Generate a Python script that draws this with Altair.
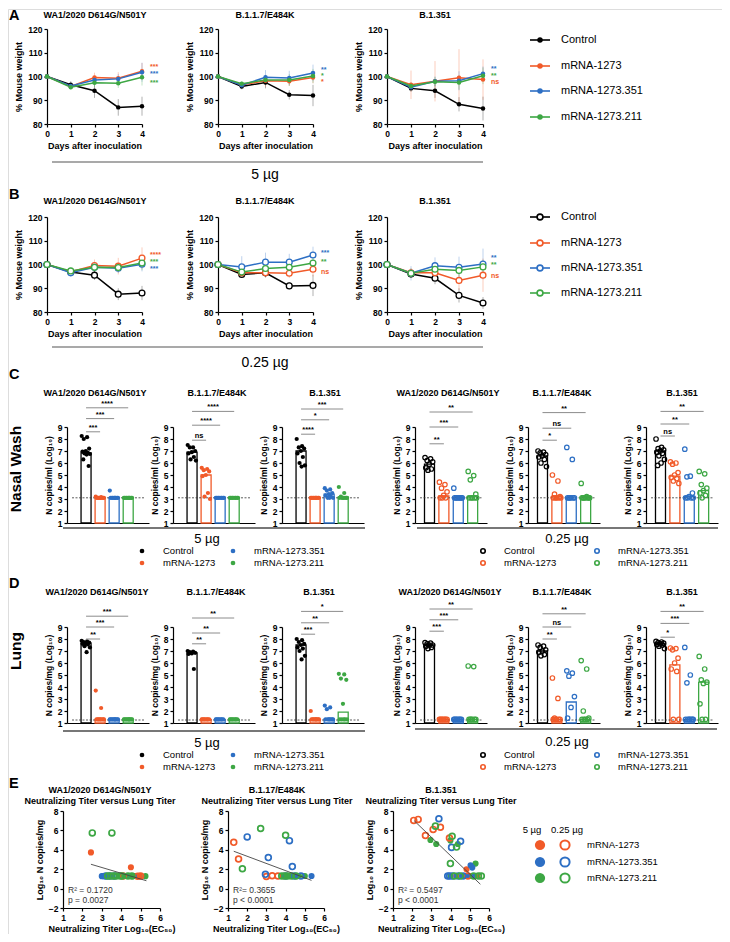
import altair as alt
import pandas as pd

FONT = "Liberation Sans"
W, H = 714, 925

GROUPS = ["Control", "mRNA-1273", "mRNA-1273.351", "mRNA-1273.211"]
COLORS = ["#000000", "#F15A29", "#2D6FC4", "#3DA744"]
STRAINS = ["WA1/2020 D614G/N501Y", "B.1.1.7/E484K", "B.1.351"]
DOSES = ["5 µg", "0.25 µg"]
DAYS = [0, 1, 2, 3, 4]

# ---------------- A / B : % mouse weight (mean, sd) per strain, per group ----------------
A_MEAN = [
    [[100, 96.5, 94.0, 87.0, 87.5], [100, 95.8, 99.6, 99.3, 102.2], [100, 96.0, 98.5, 99.0, 101.8], [100, 95.5, 97.4, 97.2, 99.7]],
    [[100, 95.8, 97.5, 92.3, 92.0], [100, 96.5, 98.2, 98.0, 99.6], [100, 96.3, 99.7, 99.4, 101.5], [100, 97.0, 98.5, 98.5, 100.2]],
    [[100, 95.0, 94.0, 88.3, 86.5], [100, 96.5, 98.0, 99.5, 98.7], [100, 95.5, 98.0, 98.2, 101.2], [100, 96.0, 97.8, 97.5, 100.3]],
]
A_SD = [
    [[0, 1.5, 3, 3.5, 4], [0, 1, 2, 2.5, 3.5], [0, 1, 1.5, 2, 4], [0, 1, 2, 2, 3.5]],
    [[0, 1.2, 2.5, 2, 4.5], [0, 1, 2.5, 2, 2.5], [0, 1, 3, 3, 3.5], [0, 1, 2, 2.5, 3]],
    [[0, 1.5, 3, 3, 5], [0, 6, 8.5, 12, 8.5], [0, 1, 2, 4, 3], [0, 1.5, 2, 3, 3.5]],
]
A_STARS = [["***", "***", "***"], ["*", "**", "*"], ["ns", "**", "**"]]
A_STAR_Y = [[104.6, 101.6, 98.1], [98.4, 103.4, 100.9], [98.3, 103.6, 101.0]]

B_MEAN = [
    [[100, 96.8, 95.5, 87.5, 88.0], [100, 97.0, 99.6, 99.3, 102.7], [100, 96.5, 98.8, 98.4, 100.1], [100, 97.3, 98.8, 98.7, 100.6]],
    [[100, 95.8, 96.5, 91.0, 91.2], [100, 96.5, 96.5, 96.3, 98.0], [100, 99.0, 101.0, 101.0, 104.0], [100, 96.8, 98.3, 98.8, 100.6]],
    [[100, 96.0, 94.2, 87.0, 83.8], [100, 96.5, 96.5, 93.3, 95.5], [100, 96.3, 99.5, 98.8, 100.2], [100, 96.3, 98.0, 97.5, 99.0]],
]
B_SD = [
    [[0, 1, 2, 2.5, 3], [0, 1.5, 2.5, 3.5, 4.5], [0, 1, 2, 2, 3], [0, 1.5, 2, 2, 3]],
    [[0, 1, 2, 1.5, 4.5], [0, 1, 1.5, 2, 3], [0, 4.5, 4, 3.5, 3.5], [0, 1, 2, 2, 3]],
    [[0, 1.5, 2.5, 3, 2.5], [0, 2, 3, 4, 7], [0, 3, 3.5, 4.5, 6.5], [0, 2, 2.5, 2.5, 3]],
]
B_STARS = [["****", "***", "***"], ["ns", "***", "**"], ["ns", "**", "**"]]
B_STAR_Y = [[104.8, 98.8, 101.8], [97.3, 105.3, 101.5], [95.6, 103.2, 100.4]]

# ---------------- C : nasal wash, log10 N copies/ml (panels: 5 µg x3, 0.25 µg x3) ----------------
C_POINTS = [
    [[8.25, 8.15, 8.0, 7.2, 7.0, 6.95, 6.85, 6.8, 6.75, 6.7, 6.3, 5.75], [3.2, 3.15, 3.1, 3.1, 3.1, 3.1, 3.1, 3.1, 3.1, 3.1],
     [3.7, 3.1, 3.1, 3.1, 3.1, 3.1, 3.1, 3.1, 3.1, 3.1], [3.1, 3.1, 3.1, 3.1, 3.1, 3.1, 3.1, 3.1, 3.1, 3.1]],
    [[7.5, 7.3, 7.3, 7.0, 6.9, 6.8, 6.5, 6.3, 6.2], [5.6, 5.5, 5.4, 5.3, 5.0, 4.9, 3.5, 3.2, 3.0],
     [3.1, 3.1, 3.1, 3.1, 3.1, 3.1, 3.1, 3.1, 3.1], [3.1, 3.1, 3.1, 3.1, 3.1, 3.1, 3.1, 3.1, 3.1]],
    [[8.0, 7.4, 7.3, 7.2, 7.0, 6.8, 6.5, 6.0, 5.8, 5.7], [3.1, 3.1, 3.1, 3.1, 3.1, 3.1, 3.1, 3.1, 3.1, 3.1],
     [3.9, 3.8, 3.7, 3.5, 3.4, 3.3, 3.2, 3.1, 3.1, 3.1], [4.0, 3.5, 3.2, 3.1, 3.1, 3.1, 3.1, 3.1, 3.1, 3.1]],
    [[6.45, 6.35, 6.2, 6.1, 5.9, 5.6, 5.5, 5.4], [4.4, 4.2, 3.9, 3.6, 3.3, 3.1, 3.1, 3.1],
     [3.9, 3.1, 3.1, 3.1, 3.1, 3.1, 3.1, 3.1, 3.1], [5.3, 4.95, 4.6, 3.4, 3.1, 3.1, 3.1, 3.1, 3.1]],
    [[7.0, 6.9, 6.85, 6.7, 6.6, 6.5, 6.3, 6.0, 5.7], [5.0, 4.5, 3.4, 3.2, 3.1, 3.1, 3.1, 3.1, 3.1],
     [7.3, 6.3, 3.1, 3.1, 3.1, 3.1, 3.1, 3.1], [4.3, 3.2, 3.1, 3.1, 3.1, 3.1, 3.1, 3.1, 3.1]],
    [[8.0, 7.3, 7.2, 7.1, 7.0, 6.9, 6.8, 6.6, 6.3, 6.0, 5.8], [6.1, 6.0, 5.9, 5.2, 5.0, 4.8, 4.7, 4.5, 4.3],
     [7.15, 4.9, 4.85, 3.5, 3.2, 3.1, 3.1, 3.1, 3.1], [5.3, 5.1, 4.2, 3.9, 3.7, 3.5, 3.3, 3.1]],
]
C_BARS = [[6.85, 3.1, 3.1, 3.1], [6.9, 5.0, 3.1, 3.1], [7.0, 3.1, 3.4, 3.15],
          [5.9, 3.25, 3.1, 3.2], [6.6, 3.2, 3.1, 3.1], [7.0, 4.9, 3.2, 3.7]]
C_STARS = [["***", "***", "****"], ["ns", "****", "****"], ["****", "*", "***"],
           ["**", "***", "**"], ["*", "ns", "**"], ["ns", "**", "**"]]
C_BRACKET_Y = [[8.6, 9.7, 10.6], [7.9, 9.15, 10.3], [8.4, 9.6, 10.5],
               [7.6, 9.0, 10.25], [7.9, 8.9, 10.2], [8.25, 9.25, 10.3]]
C_LOD = 3.1

# ---------------- D : lung, log10 N copies/mg ----------------
D_POINTS = [
    [[7.85, 7.8, 7.75, 7.7, 7.65, 7.6, 7.55, 7.4, 7.3, 6.9], [3.7, 2.25, 1.3, 1.3, 1.3, 1.3, 1.3, 1.3, 1.3, 1.3],
     [1.3] * 10, [1.3] * 10],
    [[7.0, 6.95, 6.9, 6.85, 6.8, 6.75, 5.5], [1.3] * 8, [1.3] * 8, [1.3] * 8],
    [[8.0, 7.9, 7.75, 7.6, 7.5, 7.3, 7.2, 7.0, 6.6, 6.3], [2.0, 1.3, 1.3, 1.3, 1.3, 1.3, 1.3, 1.3, 1.3, 1.3],
     [2.45, 2.3, 2.15, 1.3, 1.3, 1.3, 1.3, 1.3, 1.3, 1.3], [5.1, 5.05, 4.7, 4.6, 2.6, 1.3, 1.3, 1.3, 1.3, 1.3]],
    [[7.7, 7.65, 7.6, 7.5, 7.5, 7.4, 7.3, 7.2], [1.3] * 8, [1.3] * 8, [5.75, 5.7, 1.3, 1.3, 1.3, 1.3, 1.3, 1.3]],
    [[7.5, 7.4, 7.3, 7.1, 7.0, 6.9, 6.7, 6.6], [4.75, 3.05, 1.4, 1.3, 1.3, 1.3, 1.3, 1.3],
     [5.35, 5.15, 4.9, 3.2, 2.3, 1.4], [6.2, 5.5, 2.0, 1.4, 1.3, 1.3, 1.3, 1.3]],
    [[7.8, 7.75, 7.7, 7.65, 7.6, 7.55, 7.5, 7.4, 7.2], [7.25, 7.2, 7.1, 6.4, 6.0, 5.5, 5.3, 1.3, 1.3],
     [7.3, 5.0, 4.35, 1.3, 1.3, 1.3, 1.3, 1.3, 1.3, 1.3], [6.55, 5.5, 4.6, 4.4, 4.3, 2.6, 1.3, 1.3]],
]
D_BARS = [[7.65, 1.3, 1.3, 1.3], [6.85, 1.3, 1.3, 1.3], [7.5, 1.3, 1.35, 1.9],
          [7.5, 1.3, 1.3, 1.3], [7.0, 1.3, 2.75, 1.3], [7.6, 5.85, 1.3, 4.4]]
D_STARS = [["**", "***", "***"], ["**", "**", "**"], ["***", "**", "*"],
           ["***", "***", "**"], ["**", "ns", "**"], ["*", "***", "**"]]
D_BRACKET_Y = [[8.0, 9.0, 9.9], [7.6, 8.5, 9.75], [8.4, 9.35, 10.3],
               [8.65, 9.6, 10.5], [8.0, 9.0, 10.1], [8.15, 9.3, 10.3]]
D_LOD = 1.25

# ---------------- E : neutralizing titer vs lung titer ----------------
E_SERIES = [
    [("mRNA-1273", "5 µg", [(2.44, 3.73), (4.50, 2.20), (4.45, 1.30), (4.75, 1.30), (4.95, 1.28)]),
     ("mRNA-1273.351", "5 µg", [(3.00, 1.28), (3.05, 1.30), (3.10, 1.27), (3.15, 1.30), (3.25, 1.28), (3.35, 1.30),
                                 (3.55, 1.28), (4.30, 1.30), (4.65, 1.30)]),
     ("mRNA-1273.211", "5 µg", [(3.90, 1.30), (4.20, 1.30), (4.60, 1.28), (5.25, 1.28)]),
     ("mRNA-1273", "0.25 µg", [(4.10, 1.30), (4.85, 1.28), (5.00, 1.30)]),
     ("mRNA-1273.351", "0.25 µg", [(3.20, 1.30), (3.40, 1.30), (3.65, 1.30)]),
     ("mRNA-1273.211", "0.25 µg", [(2.51, 5.74), (3.52, 5.74), (3.30, 1.30), (3.45, 1.30), (3.60, 1.30), (3.75, 1.30),
                                    (3.95, 1.30), (4.05, 1.30), (4.35, 1.30), (4.55, 1.30)])],
    [("mRNA-1273", "5 µg", [(4.15, 1.30), (4.40, 1.30), (4.65, 1.30)]),
     ("mRNA-1273.351", "5 µg", [(4.50, 1.30), (5.35, 1.30)]),
     ("mRNA-1273.211", "5 µg", [(3.85, 1.30), (4.05, 1.30), (4.25, 1.30), (4.70, 1.30), (5.00, 1.30)]),
     ("mRNA-1273", "0.25 µg", [(1.30, 4.77), (1.55, 3.05), (3.00, 1.25), (3.30, 1.33), (3.60, 1.30)]),
     ("mRNA-1273.351", "0.25 µg", [(2.00, 5.33), (3.10, 3.20), (4.20, 4.94), (4.35, 2.27), (2.95, 1.47), (4.00, 1.30),
                                    (4.45, 1.30), (4.80, 1.30)]),
     ("mRNA-1273.211", "0.25 µg", [(1.75, 2.05), (2.70, 6.19), (4.00, 5.50), (3.80, 1.30), (3.95, 1.30), (4.10, 1.30),
                                    (4.30, 1.30), (4.55, 1.30)])],
    [("mRNA-1273.211", "5 µg", [(2.95, 5.01), (3.25, 4.60), (3.99, 4.95), (4.38, 4.60), (5.30, 2.58), (4.00, 1.30),
                                 (5.30, 1.30)]),
     ("mRNA-1273", "5 µg", [(4.83, 1.99), (4.30, 1.30), (4.70, 1.30), (4.95, 1.30), (5.10, 1.30), (5.40, 1.30)]),
     ("mRNA-1273.351", "5 µg", [(5.04, 2.41), (5.13, 2.17), (4.60, 1.30), (4.80, 1.30), (5.00, 1.30), (5.15, 1.30)]),
     ("mRNA-1273", "0.25 µg", [(2.08, 7.03), (2.31, 7.13), (2.69, 5.47), (3.09, 6.10), (3.47, 6.33), (3.94, 5.22),
                                (4.90, 1.30)]),
     ("mRNA-1273.351", "0.25 µg", [(3.39, 7.20), (4.05, 4.25), (4.52, 4.88), (3.85, 1.30), (3.95, 1.30), (4.10, 1.30),
                                    (4.40, 1.30), (4.65, 1.30)]),
     ("mRNA-1273.211", "0.25 µg", [(3.21, 6.44), (4.08, 5.39), (4.31, 4.28), (3.99, 2.58), (4.20, 1.30), (4.50, 1.30),
                                    (5.20, 1.30), (5.45, 1.30), (5.60, 1.30)])],
]
E_FIT = [[(2.44, 2.51), (5.30, 0.81)], [(1.30, 3.85), (5.35, 0.85)], [(2.10, 7.00), (5.55, 0.45)]]
E_STATS = [["R² = 0.1720", "p =  0.0027"], ["R²= 0.3655", "p < 0.0001"], ["R² = 0.5497", "p < 0.0001"]]

# ---------------- layout (pixels inside the chart) ----------------
AB_X = [(39, 134), (210, 305), (379, 475)]
A_Y, B_Y = (20, 115), (208, 303)
CD_X = [(59, 141), (165, 247), (274, 356), (407, 479), (520, 592), (638, 710)]
CD_DOM = [(-1.0, 4.125)] * 3 + [(-0.66, 3.65)] * 3
C_Y, D_Y = (418, 514), (618, 714)
E_X = [(55, 152), (220, 316), (385, 481)]
E_Y = (802, 899)

CSCALE = alt.Scale(domain=GROUPS, range=COLORS)
ONE = pd.DataFrame({"k": [0]})


def ax(**kw):
    d = dict(grid=False, domainColor="black", domainWidth=1.2, tickColor="black", tickWidth=1.2, tickSize=3,
             labelFont=FONT, labelFontSize=8.5, labelFontWeight="bold", labelColor="black", labelFlush=False,
             labelPadding=2, titleFont=FONT, titleFontSize=9, titleFontWeight="bold", titleColor="black")
    d.update(kw)
    return alt.Axis(**d)


def txt(x, y, s, size=9.0, weight="normal", align="center", baseline="middle", angle=0, color="black"):
    kw = dict(text=s, font=FONT, fontSize=size, fontWeight=weight, align=align, baseline=baseline, color=color)
    if angle:
        kw["angle"] = angle
    return alt.Chart(ONE).mark_text(**kw).encode(x=alt.value(x), y=alt.value(y))


def hrule(xa, xb, y, color="black", width=1.0):
    return alt.Chart(ONE).mark_rule(color=color, strokeWidth=width).encode(
        x=alt.value(xa), x2=alt.value(xb), y=alt.value(y))


def dot(x, y, color, filled, size, sw=1.5):
    kw = dict(shape="circle", filled=filled, color=color, size=size, opacity=1, strokeWidth=sw)
    if not filled:
        kw["fill"] = "white"
    return alt.Chart(ONE).mark_point(**kw).encode(x=alt.value(x), y=alt.value(y))


def weight_panel(means, sds, stars, star_y, xr, yr, filled):
    x0, x1 = xr
    top, bottom = yr
    rows = []
    for g, m, s in zip(GROUPS, means, sds):
        for d, mv, sv in zip(DAYS, m, s):
            rows.append({"group": g, "day": d, "w": mv, "lo": mv - sv, "hi": mv + sv})
    df = pd.DataFrame(rows)
    xs = alt.Scale(domain=[0, 4], range=[x0, x1], nice=False, zero=False)
    ys = alt.Scale(domain=[80, 120], range=[bottom, top], nice=False, zero=False)
    xa = ax(orient="bottom", offset=bottom - H, values=DAYS, title="Days after inoculation", titlePadding=4)
    ya = ax(orient="left", offset=-x0, values=[80, 90, 100, 110, 120], title="% Mouse weight", titlePadding=4)

    def X(f):
        return alt.X(f"{f}:Q", scale=xs, axis=xa)

    def Y(f):
        return alt.Y(f"{f}:Q", scale=ys, axis=ya)

    col = alt.Color("group:N", scale=CSCALE, legend=None)
    base = alt.Chart(df)
    err = base.mark_rule(strokeWidth=0.9, opacity=0.35).encode(x=X("day"), y=Y("lo"), y2="hi:Q", color=col)
    line = base.mark_line(strokeWidth=1.5).encode(x=X("day"), y=Y("w"), color=col)
    pk = dict(shape="circle", filled=filled, opacity=1, strokeWidth=1.3, size=20 if filled else 34)
    if not filled:
        pk["fill"] = "white"
    pts = base.mark_point(**pk).encode(x=X("day"), y=Y("w"), color=col)
    sdf = pd.DataFrame({"group": GROUPS[1:], "day": [4, 4, 4], "sy": star_y, "label": stars})
    st = alt.Chart(sdf).mark_text(align="left", dx=8, dy=1.5, baseline="middle", font=FONT, fontSize=7,
                                  fontWeight="bold").encode(x=X("day"), y=Y("sy"), text="label:N", color=col)
    return alt.layer(err, line, pts, st)


def spread(n):
    if n == 1:
        return [0.0]
    return [((k * 0.618034) % 1.0 - 0.5) * 0.62 for k in range(n)]


def bar_panel(values, bars, stars, br_y, lod, ytitle, xr, dom, yr, filled):
    x0, x1 = xr
    top, bottom = yr
    xs = alt.Scale(domain=list(dom), range=[x0, x1], nice=False, zero=False)
    ys = alt.Scale(domain=[1, 9], range=[bottom, top], nice=False, zero=False)
    xa = ax(orient="bottom", offset=bottom - H, labels=False, ticks=False, title=None)
    ya = ax(orient="left", offset=-x0, values=list(range(1, 10)), title=ytitle, titlePadding=4, titleFontSize=8.5)

    def X(f):
        return alt.X(f"{f}:Q", scale=xs, axis=xa)

    def Y(f):
        return alt.Y(f"{f}:Q", scale=ys, axis=ya)

    rows = []
    for i, (g, vals) in enumerate(zip(GROUPS, values)):
        for v, o in zip(sorted(vals, reverse=True), spread(len(vals))):
            rows.append({"group": g, "xj": i + o, "v": v})
    pdf = pd.DataFrame(rows)
    bdf = pd.DataFrame({"group": GROUPS, "xi": [0, 1, 2, 3], "v": bars, "base": [1.0] * 4})
    ldf = pd.DataFrame({"xa": [dom[0]], "xb": [dom[1]], "v": [lod]})
    kdf = pd.DataFrame({"xa": [0, 0, 0], "xb": [1, 2, 3], "xm": [0.5, 1.0, 1.5], "v": br_y, "label": stars})

    barl = alt.Chart(bdf).mark_bar(width=10, fill="white", strokeWidth=1.3).encode(
        x=X("xi"), y=Y("v"), y2="base:Q", stroke=alt.Stroke("group:N", scale=CSCALE, legend=None))
    lodl = alt.Chart(ldf).mark_rule(strokeDash=[2, 1.5], color="#333", strokeWidth=0.8).encode(
        x=X("xa"), x2="xb:Q", y=Y("v"))
    pk = dict(shape="circle", filled=filled, opacity=1, strokeWidth=1.2, size=18 if filled else 20)
    ptl = alt.Chart(pdf).mark_point(**pk).encode(x=X("xj"), y=Y("v"),
                                                color=alt.Color("group:N", scale=CSCALE, legend=None))
    brl = alt.Chart(kdf).mark_rule(color="#8c8c8c", strokeWidth=1).encode(x=X("xa"), x2="xb:Q", y=Y("v"))
    stl = alt.Chart(kdf).mark_text(baseline="bottom", dy=0, font=FONT, fontSize=7.5, fontWeight="bold").encode(
        x=X("xm"), y=Y("v"), text="label:N")
    return alt.layer(barl, lodl, ptl, brl, stl)


def e_panel(series, fit, xr, yr):
    x0, x1 = xr
    top, bottom = yr
    rows = []
    for g, d, pts in series:
        for (t, n) in pts:
            rows.append({"group": g, "dose": d, "t": t, "n": n})
    df = pd.DataFrame(rows)
    fdf = pd.DataFrame({"t": [p[0] for p in fit], "n": [p[1] for p in fit]})
    xs = alt.Scale(domain=[1, 6], range=[x0, x1], nice=False, zero=False)
    ys = alt.Scale(domain=[-2, 8], range=[bottom, top], nice=False, zero=False)
    xa = ax(orient="bottom", offset=bottom - H, values=[1, 2, 3, 4, 5, 6],
            title="Neutralizing Titer Log₁₀(EC₅₀)", titlePadding=3)
    ya = ax(orient="left", offset=-x0, values=[-2, 0, 2, 4, 6, 8], title="Log₁₀ N copies/mg", titlePadding=4)
    X = alt.X("t:Q", scale=xs, axis=xa)
    Y = alt.Y("n:Q", scale=ys, axis=ya)
    col = alt.Color("group:N", scale=CSCALE, legend=None)
    filled = alt.Chart(df).transform_filter(alt.datum.dose == DOSES[0]).mark_point(
        shape="circle", filled=True, size=38, opacity=1).encode(x=X, y=Y, color=col)
    hollow = alt.Chart(df).transform_filter(alt.datum.dose == DOSES[1]).mark_point(
        shape="circle", filled=False, size=34, strokeWidth=1.7, opacity=1).encode(x=X, y=Y, color=col)
    line = alt.Chart(fdf).mark_line(color="#444", strokeWidth=0.9).encode(x=X, y=Y)
    return alt.layer(filled, hollow, line)


layers = []

# ---- A and B ----
for s in range(3):
    layers.append(weight_panel(A_MEAN[s], A_SD[s], A_STARS[s], A_STAR_Y[s], AB_X[s], A_Y, True))
    layers.append(weight_panel(B_MEAN[s], B_SD[s], B_STARS[s], B_STAR_Y[s], AB_X[s], B_Y, False))

# ---- C and D ----
for p in range(6):
    layers.append(bar_panel(C_POINTS[p], C_BARS[p], C_STARS[p], C_BRACKET_Y[p], C_LOD,
                            "N copies/ml  (Log₁₀)", CD_X[p], CD_DOM[p], C_Y, p < 3))
    layers.append(bar_panel(D_POINTS[p], D_BARS[p], D_STARS[p], D_BRACKET_Y[p], D_LOD,
                            "N copies/mg  (Log₁₀)", CD_X[p], CD_DOM[p], D_Y, p < 3))

# ---- E ----
for s in range(3):
    layers.append(e_panel(E_SERIES[s], E_FIT[s], E_X[s], E_Y))

deco = []
# panel letters
for letter, y in zip("ABCDE", [7, 186, 366, 575, 775]):
    deco.append(txt(1, y, letter, size=14.5, weight="bold", align="left"))

# A/B titles
for s, cx in enumerate([87, 257, 427]):
    deco.append(txt(cx, 6, STRAINS[s], size=9, weight="bold"))
    deco.append(txt(cx, 192, STRAINS[s], size=9, weight="bold"))
# dose rules A/B
deco += [hrule(44, 475, 153, "#555", 1.2), txt(257, 166, DOSES[0], size=14),
         hrule(44, 475, 338, "#555", 1.2), txt(257, 354, DOSES[1], size=14)]
# A/B legends
for ys_, filled in [([31, 57, 82, 108], True), ([208, 234, 259, 284], False)]:
    for g, c, y in zip(GROUPS, COLORS, ys_):
        deco += [hrule(522, 542, y, c, 1.6), dot(532, y, c, filled, 30 if filled else 34, 1.6),
                 txt(553, y, g, size=11, align="left")]

# C/D titles
for p, (cc, cd) in enumerate(zip([87, 209, 317, 440, 554, 674], [89, 208, 311, 442, 554, 674])):
    deco.append(txt(cc, 384, STRAINS[p % 3], size=9, weight="bold"))
    deco.append(txt(cd, 583, STRAINS[p % 3], size=9, weight="bold"))
deco.append(txt(8, 460, "Nasal Wash", size=15.5, weight="bold", angle=270))
deco.append(txt(8, 642, "Lung", size=15.5, weight="bold", angle=270))
# C/D dose rules & labels
deco += [hrule(55, 357, 519, "#777", 2), hrule(409, 710, 519, "#777", 2),
         txt(199, 530, DOSES[0], size=13), txt(559, 530, DOSES[1], size=13),
         hrule(55, 357, 722, "#777", 2), hrule(407, 709, 720, "#777", 2),
         txt(199, 734, DOSES[0], size=13), txt(559, 733, DOSES[1], size=13)]
# C/D legends (2 x 2)
for rows_y in ([542, 554], [746, 758]):
    for cols_x, filled in (([134, 225], True), ([475, 589], False)):
        for gi, g in enumerate(GROUPS):
            cx = cols_x[gi // 2]
            cy = rows_y[gi % 2]
            deco += [dot(cx, cy, COLORS[gi], filled, 22 if filled else 20, 1.6),
                     txt(cx + 21, cy, g, size=9.5, align="left")]

# E titles, stats
for s, cx in enumerate([92, 269, 433]):
    deco.append(txt(cx, 781, STRAINS[s] if s != 1 else "B.1.17/E484K", size=9, weight="bold"))
    deco.append(txt(cx, 792, "Neutralizing Titer versus Lung Titer", size=9, weight="bold"))
    deco.append(txt(E_X[s][0] + 5, 881, E_STATS[s][0], size=8.5, align="left", color="#333"))
    deco.append(txt(E_X[s][0] + 5, 891, E_STATS[s][1], size=8.5, align="left", color="#333"))
# E legend
deco += [txt(524, 821, DOSES[0], size=9.5), txt(559, 821, DOSES[1], size=9.5)]
for gi, y in zip([1, 2, 3], [836, 853, 869]):
    deco += [dot(532, y, COLORS[gi], True, 105, 2), dot(557, y, COLORS[gi], False, 85, 2),
             txt(579, y, GROUPS[gi], size=9.5, align="left")]

chart = alt.layer(*layers, *deco).resolve_scale(x="independent", y="independent").properties(
    width=W, height=H, padding=0
).configure_view(strokeWidth=0).configure(font=FONT)

chart.save("out.html", embed_options={"renderer": "svg", "actions": False})
